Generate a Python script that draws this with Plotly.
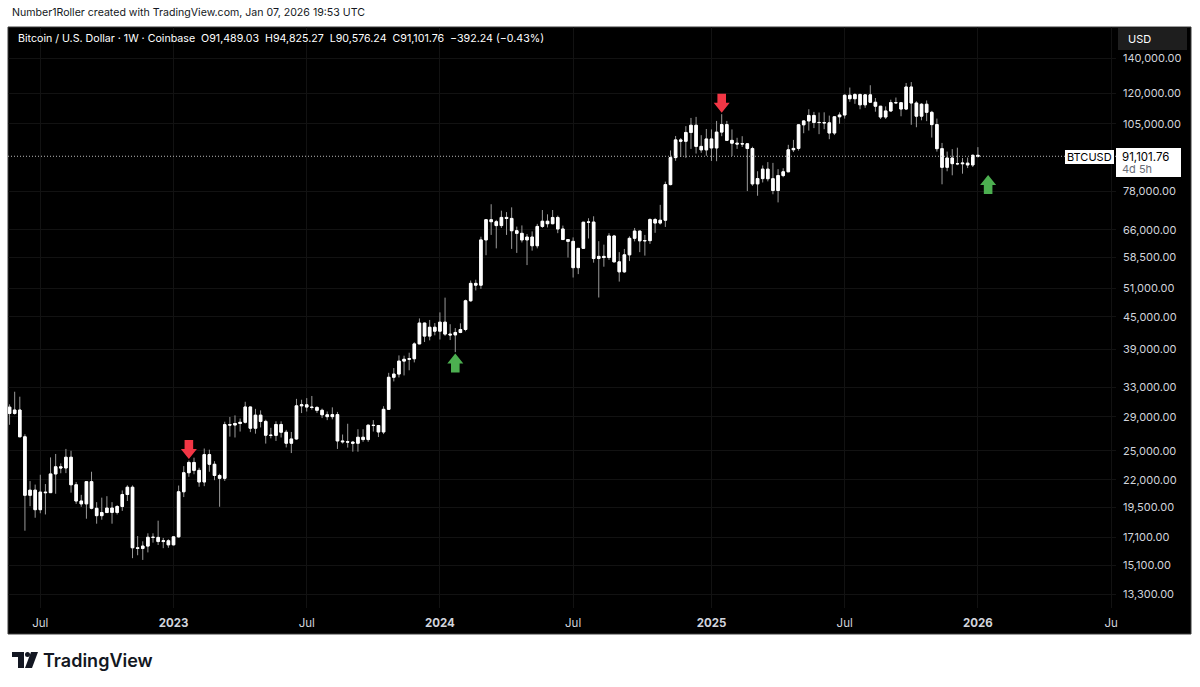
import math
import pandas as pd
import plotly.graph_objects as go

# ---------------- DATA ----------------
week_start = "2022-05-23"  # first weekly bar (Monday)

opens = [30280, 29450, 29900, 26580, 20560, 21030, 19300, 20850, 20800, 22580,
         23300, 23180, 24300, 21530, 20050, 19800, 21830, 19420, 18800, 19060,
         19440, 19070, 19570, 20630, 21300, 16330, 16280, 16450, 17100, 17090,
         16780, 16840,
         16540, 17130, 20880, 22700, 23750, 22940, 21800, 24580, 23560, 22430,
         22150, 28040, 27990, 28180, 28330, 30300, 27600, 29230, 28440, 26770,
         26750, 28060, 27120, 25840, 26330, 30450, 30590, 30290, 30240, 29860,
         29280, 29040, 29300, 26100, 26010, 25970, 25840, 26530, 26260, 27970,
         27930, 27150, 29990, 34520, 35010, 37060, 37360, 37450, 39970, 43800,
         41360, 43000,
         42270, 43980, 41730, 41580, 42030, 42580, 48300, 52140, 51730, 63100,
         68950, 68350, 67200, 69650, 69350, 65700, 64950, 63100, 63900, 61500,
         66950, 68500, 67750, 69640, 66200, 63200, 62700, 55860, 60800, 68200,
         68250, 58150, 58700, 58400, 64200, 57300, 54850, 59100, 63550, 65600,
         62850, 62900, 69000, 67950, 68800, 80450, 90580, 97900, 97300, 101150,
         104400, 95150, 93700,
         98300, 94500, 101300, 104700, 97700, 96500, 96150, 96250, 94250, 80700,
         82600, 86100, 82550, 78400, 83700, 85100, 93750, 94300, 104600, 106400,
         109000, 105700, 105650, 105500, 100900, 108350, 109200, 119100, 117300, 119450,
         114200, 119300, 115500, 113500, 108250, 111150, 115300, 115250, 112100, 123500,
         115100, 108650, 114500, 110500, 104700, 94200, 86800, 90400, 88200, 88150,
         88400, 87700,
         91489.03]

highs = [30650, 32400, 31700, 26880, 21880, 21550, 22500, 21600, 24280, 24650,
         23650, 25200, 25000, 21800, 20600, 21850, 22800, 19950, 20350, 20480,
         19950, 19700, 21000, 21480, 21470, 17190, 16800, 17400, 17400, 18390,
         17050, 16950,
         17180, 21460, 23370, 23950, 24250, 23200, 25250, 25120, 23880, 22600,
         28400, 29000, 29200, 28800, 31000, 30330, 30050, 29850, 28650, 27650,
         28450, 28450, 27400, 27150, 31400, 31280, 31500, 31800, 30400, 30080,
         29700, 30250, 29650, 26850, 28150, 26100, 27480, 27480, 28050, 28600,
         28000, 30400, 35200, 35950, 38000, 37950, 38450, 40250, 44700, 43850,
         44400, 43800,
         45900, 48970, 43580, 42850, 43750, 48550, 52800, 52980, 64000, 69150,
         73800, 68900, 71750, 71300, 72800, 66900, 67250, 64750, 65500, 67700,
         71950, 70600, 71950, 70200, 67200, 63300, 63800, 60800, 68300, 69400,
         70000, 62750, 61800, 65000, 64500, 59800, 60650, 64100, 66500, 65650,
         64500, 69400, 69500, 73600, 81500, 93450, 99600, 98700, 104000, 107800,
         108300, 99950, 102700,
         102500, 106400, 109600, 106400, 102500, 98800, 99500, 96500, 95000, 85300,
         87500, 88800, 88500, 86100, 86450, 95800, 97900, 104900, 106700, 112000,
         110700, 110400, 110500, 108900, 108500, 110500, 119500, 123200, 120200, 120000,
         119500, 124450, 117650, 113600, 113400, 116800, 117900, 115400, 125700, 126200,
         116000, 115000, 116400, 111200, 107500, 96600, 93000, 94000, 94600, 90400,
         90600, 91800,
         94825.27]

lows = [28020, 29300, 28850, 17600, 19600, 18630, 19000, 18900, 20770, 20700,
        22650, 22660, 20800, 19800, 19550, 18550, 19330, 18150, 18470, 19060,
        18150, 18900, 19200, 20050, 15600, 15800, 15480, 16000, 16700, 16530,
        16300, 16330,
        16500, 17080, 20400, 22300, 22550, 21350, 21400, 22800, 21970, 19550,
        21900, 26600, 26500, 27200, 28180, 27130, 26950, 27700, 25800, 26400,
        26100, 26500, 25370, 24750, 26250, 29500, 29700, 29950, 29520, 28860,
        28600, 28700, 25200, 25800, 25350, 24900, 24900, 26000, 26000, 27200,
        26550, 26900, 29900, 33900, 34500, 34800, 35600, 36850, 39950, 40300,
        40600, 41500,
        40750, 41400, 40650, 38550, 41900, 42250, 48100, 50550, 50900, 59000,
        64500, 60800, 66500, 64500, 60660, 59600, 62400, 56500, 60200, 60800,
        66500, 66650, 67600, 65000, 63100, 58400, 53500, 54300, 60700, 63500,
        57100, 49000, 56100, 57800, 57200, 52550, 54600, 57500, 62700, 59800,
        58900, 62000, 65100, 67500, 66800, 80200, 89300, 90800, 90500, 94100,
        92200, 92500, 91300,
        89250, 89150, 99500, 97500, 91200, 94100, 94900, 78200, 80000, 76600,
        81200, 81600, 77100, 74400, 83100, 85100, 92800, 93400, 100800, 102000,
        103100, 100400, 102600, 98200, 100000, 105100, 107500, 115700, 114700, 112000,
        112700, 116800, 110800, 107300, 107300, 110800, 114700, 108600, 111600, 104600,
        103500, 106700, 106300, 98900, 93000, 80550, 85300, 83800, 87600, 84400,
        86500, 86900,
        90576.24]

closes = [29450, 29900, 26580, 20560, 21030, 19300, 20850, 20800, 22580, 23300,
          23180, 24300, 21530, 20050, 19800, 21830, 19420, 18800, 19060, 19440,
          19070, 19570, 20630, 21300, 16330, 16280, 16450, 17100, 17090, 16780,
          16840, 16540,
          17130, 20880, 22700, 23750, 22940, 21800, 24580, 23560, 22430, 22150,
          28040, 27990, 28180, 28330, 30300, 27600, 29230, 28440, 26770, 26750,
          28060, 27120, 25840, 26330, 30450, 30590, 30290, 30240, 29860, 29280,
          29040, 29300, 26100, 26010, 25970, 25840, 26530, 26260, 27970, 27930,
          27150, 29990, 34520, 35010, 37060, 37360, 37450, 39970, 43800, 41360,
          43000, 42270,
          43980, 41730, 41580, 42030, 42580, 48300, 52140, 51730, 63100, 68950,
          68350, 67200, 69650, 69350, 65700, 64950, 63100, 63900, 61500, 66950,
          68500, 67750, 69640, 66200, 63200, 62700, 55860, 60800, 68200, 68250,
          58150, 58700, 58400, 64200, 57300, 54850, 59100, 63550, 65600, 62850,
          62900, 69000, 67950, 68800, 80450, 90580, 97900, 97300, 101150, 104400,
          95150, 93700, 98300,
          94500, 101300, 104700, 97700, 96500, 96150, 96250, 94250, 80700, 82600,
          86100, 82550, 78400, 83700, 85100, 93750, 94300, 104600, 106400, 109000,
          105700, 105650, 105500, 100900, 108350, 109200, 119100, 117300, 119450, 114200,
          119300, 115500, 113500, 108250, 111150, 115300, 115250, 112100, 123500, 115100,
          108650, 114500, 110500, 104700, 94200, 86800, 90400, 88200, 88150, 88400,
          87700, 91489.03,
          91101.76]

price_ticks = [140000, 120000, 105000, 78000, 66000, 58500, 51000, 45000, 39000,
               33000, 29000, 25000, 22000, 19500, 17100, 15100, 13300]
time_tick_dates = ["2022-07-04", "2023-01-02", "2023-07-03", "2024-01-01", "2024-07-01",
                   "2025-01-06", "2025-07-07", "2026-01-05", "2026-07-06"]
time_tick_text = ["Jul", "2023", "Jul", "2024", "Jul", "2025", "Jul", "2026", "Ju"]

sell_signals = [("2023-01-23", 24100), ("2025-01-20", 110300)]   # (week, price at arrow tip)
buy_signals = [("2024-01-22", 38300), ("2026-01-19", 83900)]

last_price = 91101.76
header_text = "Number1Roller created with TradingView.com, Jan 07, 2026 19:53 UTC"
legend_text = ("Bitcoin / U.S. Dollar · 1W · Coinbase  O91,489.03  H94,825.27  "
               "L90,576.24  C91,101.76  −392.24 (−0.43%)")

# ---------------- LAYOUT GEOMETRY ----------------
W, H = 1200, 687
L, R, T, B = 8, 1116, 27, 608        # plot area in page pixels
PW, PH = R - L, B - T
FONT = "Inter, Roboto, 'Open Sans', sans-serif"


def px(x):
    return (x - L) / PW


def py(y):
    return (B - y) / PH


dates = pd.date_range(week_start, periods=len(opens), freq="7D")
body_hi = [max(o, c) for o, c in zip(opens, closes)]
body_lo = [min(o, c) for o, c in zip(opens, closes)]

fig = go.Figure()

# wicks (grey)
fig.add_trace(go.Candlestick(
    x=dates, open=opens, high=highs, low=lows, close=closes,
    increasing=dict(line=dict(color="#9a9a9a", width=1), fillcolor="#ffffff"),
    decreasing=dict(line=dict(color="#9a9a9a", width=1), fillcolor="#ffffff"),
    hoverinfo="skip", showlegend=False))
# bodies (white)
fig.add_trace(go.Candlestick(
    x=dates, open=opens, high=body_hi, low=body_lo, close=closes,
    increasing=dict(line=dict(color="#ffffff", width=1), fillcolor="#ffffff"),
    decreasing=dict(line=dict(color="#ffffff", width=1), fillcolor="#ffffff"),
    hoverinfo="skip", showlegend=False))

shapes = []
# black chart panel
shapes.append(dict(type="rect", xref="paper", yref="paper", x0=px(8), x1=px(1191),
                   y0=py(634), y1=py(27), fillcolor="#000000",
                   line=dict(color="#3a3a3a", width=1), layer="below"))
# last price dotted line
shapes.append(dict(type="line", xref="paper", yref="y", x0=0, x1=1,
                   y0=last_price, y1=last_price,
                   line=dict(color="#b8b8b8", width=1, dash="1px,2px")))

down_path = "M0,0 L-8,10 L-4.3,10 L-4.3,19 L4.3,19 L4.3,10 L8,10 Z"
up_path = "M0,0 L-8,-10 L-4.3,-10 L-4.3,-19 L4.3,-19 L4.3,-10 L8,-10 Z"
for d, p in sell_signals:
    shapes.append(dict(type="path", xref="x", yref="y", xsizemode="pixel", ysizemode="pixel",
                       xanchor=d, yanchor=p, path=down_path,
                       fillcolor="#f23645", line=dict(width=0)))
for d, p in buy_signals:
    shapes.append(dict(type="path", xref="x", yref="y", xsizemode="pixel", ysizemode="pixel",
                       xanchor=d, yanchor=p, path=up_path,
                       fillcolor="#4caf50", line=dict(width=0)))

# USD button
shapes.append(dict(type="rect", xref="paper", yref="paper", x0=px(1118), x1=px(1187),
                   y0=py(50), y1=py(28), fillcolor="#1e1e1e", line=dict(width=0)))
# BTCUSD label box
shapes.append(dict(type="rect", xref="paper", yref="paper", x0=px(1065), x1=px(1114),
                   y0=py(164), y1=py(150), fillcolor="#ffffff", line=dict(width=0)))
# price label box
shapes.append(dict(type="rect", xref="paper", yref="paper", x0=px(1116), x1=px(1181),
                   y0=py(177), y1=py(148), fillcolor="#ffffff", line=dict(width=0)))

# TradingView logo icon
shapes.append(dict(type="path", xref="paper", yref="paper",
                   path=f"M{px(12)},{py(652)} L{px(24)},{py(652)} L{px(24)},{py(668)} "
                        f"L{px(18)},{py(668)} L{px(18)},{py(657)} L{px(12)},{py(657)} Z",
                   fillcolor="#131722", line=dict(width=0)))
shapes.append(dict(type="circle", xref="paper", yref="paper",
                   x0=px(25), x1=px(30), y0=py(657), y1=py(652),
                   fillcolor="#131722", line=dict(width=0)))
shapes.append(dict(type="path", xref="paper", yref="paper",
                   path=f"M{px(31)},{py(652)} L{px(38)},{py(652)} L{px(32)},{py(668)} "
                        f"L{px(25)},{py(668)} Z",
                   fillcolor="#131722", line=dict(width=0)))

annotations = [
    dict(text=header_text, xref="paper", yref="paper", x=px(10), y=py(13),
         xanchor="left", yanchor="middle", showarrow=False,
         font=dict(family=FONT, size=10.6, color="#131722")),
    dict(text=legend_text, xref="paper", yref="paper", x=px(16), y=py(38),
         xanchor="left", yanchor="middle", showarrow=False,
         font=dict(family=FONT, size=10.65, color="#ffffff")),
    dict(text="USD", xref="paper", yref="paper", x=px(1126), y=py(39),
         xanchor="left", yanchor="middle", showarrow=False,
         font=dict(family=FONT, size=11, color="#ffffff")),
    dict(text="BTCUSD", xref="paper", yref="paper", x=px(1089.5), y=py(157),
         xanchor="center", yanchor="middle", showarrow=False,
         font=dict(family=FONT, size=11, color="#000000")),
    dict(text=f"{last_price:,.2f}", xref="paper", yref="paper", x=px(1120), y=py(156.5),
         xanchor="left", yanchor="middle", showarrow=False,
         font=dict(family=FONT, size=11.5, color="#000000")),
    dict(text="4d 5h", xref="paper", yref="paper", x=px(1120), y=py(168.5),
         xanchor="left", yanchor="middle", showarrow=False,
         font=dict(family=FONT, size=11, color="#6a6d78")),
    dict(text="TradingView", xref="paper", yref="paper", x=px(41), y=py(660),
         xanchor="left", yanchor="middle", showarrow=False,
         font=dict(family=FONT, size=18, color="#131722", weight=600)),
]

ticktext_x = [f"<b>{t}</b>" if t.isdigit() else t for t in time_tick_text]

y_lo = math.log10(math.exp(9.4362))
y_hi = math.log10(math.exp(11.9874))

fig.update_layout(
    width=W, height=H,
    margin=dict(l=L, r=W - R, t=T, b=H - B, pad=0),
    paper_bgcolor="#ffffff", plot_bgcolor="#000000",
    shapes=shapes, annotations=annotations,
    showlegend=False, hovermode=False,
    font=dict(family=FONT, color="#d1d4dc"),
    xaxis=dict(type="date", range=["2022-05-20 21:00", "2026-07-12 17:00"],
               rangeslider=dict(visible=False),
               tickmode="array", tickvals=time_tick_dates, ticktext=ticktext_x,
               tickfont=dict(family=FONT, size=11.5, color="#d1d4dc"),
               showgrid=True, gridcolor="#121212", gridwidth=1,
               zeroline=False, showline=False, ticks="", ticklabelstandoff=6),
    yaxis=dict(type="log", side="right", range=[y_lo, y_hi],
               tickmode="array", tickvals=price_ticks,
               ticktext=[f"{v:,.2f}" for v in price_ticks],
               tickfont=dict(family=FONT, size=11, color="#d1d4dc"),
               showgrid=True, gridcolor="#121212", gridwidth=1,
               zeroline=False, showline=False, ticks="", ticklabelstandoff=6),
)

# remove the browser's default 8px page margin so the figure fills the window
fig.write_html("out.html", config={"displayModeBar": False},
               post_script="document.body.style.margin='0';document.body.style.overflow='hidden';")
